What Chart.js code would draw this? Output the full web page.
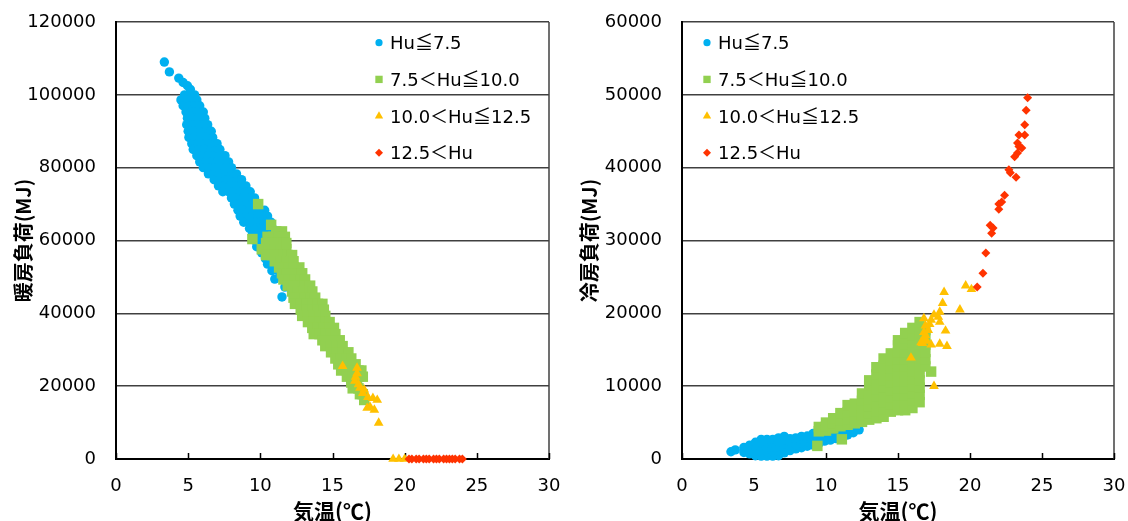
<!DOCTYPE html>
<html>
<head>
<meta charset="utf-8">
<script src="https://cdn.jsdelivr.net/npm/chart.js@4.4.1/dist/chart.umd.min.js"></script>
<style>
html,body{margin:0;padding:0;background:#fff;}
#wrap{position:relative;width:1128px;height:521px;overflow:hidden;}
.c{position:absolute;top:0;width:564px;height:521px;}
</style>
</head>
<body>
<div id="wrap">
  <div class="c" style="left:0"><canvas id="heat" width="564" height="521"></canvas></div>
  <div class="c" style="left:564px"><canvas id="cool" width="564" height="521"></canvas></div>
</div>
<script>
// ---------- labels & ticks ----------
const seriesLabels = ['Hu≦7.5', '7.5＜Hu≦10.0', '10.0＜Hu≦12.5', '12.5＜Hu'];
const xTitle = '気温(℃)';
const heatTitle = '暖房負荷(MJ)';
const coolTitle = '冷房負荷(MJ)';
const xTicks = [0, 5, 10, 15, 20, 25, 30];
const heatTicks = [0, 20000, 40000, 60000, 80000, 100000, 120000];
const coolTicks = [0, 10000, 20000, 30000, 40000, 50000, 60000];

// ---------- heating load (left) : [temperature, load] ----------
const heatHu1 = [
[3.35,109000],[3.7,106300],[4.35,104600],[4.65,103400],[4.95,102500],[5.15,101500],
[4.75,100000],[5.15,100000],[5.45,100000],
[4.5,98600],[4.9,98600],[5.3,98600],[5.6,98600],
[4.65,97000],[5.05,97000],[5.45,97000],[5.8,97000],
[4.85,95300],[5.25,95300],[5.65,95300],[6.05,95300],
[4.95,93600],[5.35,93600],[5.75,93600],[6.15,93600],
[4.9,91800],[5.3,91800],[5.7,91800],[6.1,91800],[6.35,91800],
[5.0,90000],[5.4,90000],[5.8,90000],[6.2,90000],[6.6,90000],
[5.05,88300],[5.45,88300],[5.85,88300],[6.25,88300],[6.7,88300],
[5.25,86600],[5.65,86600],[6.05,86600],[6.45,86600],[6.85,86600],[7.0,86600],
[5.35,85000],[5.75,85000],[6.15,85000],[6.55,85000],[6.95,85000],[7.2,85000],
[5.6,83300],[6.0,83300],[6.4,83300],[6.8,83300],[7.2,83300],[7.55,83300],
[5.8,81600],[6.2,81600],[6.6,81600],[7.0,81600],[7.4,81600],[7.8,81600],
[6.05,80000],[6.45,80000],[6.85,80000],[7.25,80000],[7.65,80000],[8.0,80000],
[6.4,78300],[6.8,78300],[7.2,78300],[7.6,78300],[8.0,78300],[8.35,78300],
[6.8,76700],[7.2,76700],[7.6,76700],[8.0,76700],[8.4,76700],[8.7,76700],
[7.1,75000],[7.5,75000],[7.9,75000],[8.3,75000],[8.7,75000],[9.0,75000],
[7.4,73400],[7.8,73400],[8.2,73400],[8.6,73400],[9.0,73400],[9.3,73400],
[8.0,71700],[8.4,71700],[8.8,71700],[9.2,71700],[9.6,71700],
[8.2,70000],[8.6,70000],[9.0,70000],[9.4,70000],[9.8,70000],
[8.45,68300],[8.85,68300],[9.25,68300],[9.65,68300],[10.05,68300],[10.3,68300],
[8.6,66700],[9.0,66700],[9.4,66700],[9.8,66700],[10.2,66700],[10.5,66700],
[8.85,65000],[9.25,65000],[9.65,65000],[10.05,65000],[10.45,65000],[10.75,65000],
[9.25,63300],[9.65,63300],[10.05,63300],[10.45,63300],[10.85,63300],
[9.45,61600],[9.85,61600],[10.25,61600],[10.65,61600],[11.05,61600],
[9.6,60000],[10.0,60000],[10.4,60000],[10.8,60000],[11.2,60000],[11.5,60000],
[9.75,58300],[10.15,58300],[10.55,58300],[10.95,58300],[11.35,58300],[11.8,58300],
[10.1,56600],[10.5,56600],[10.9,56600],[11.3,56600],[11.7,56600],
[10.35,55000],[10.75,55000],[11.15,55000],[11.55,55000],
[10.5,53500],[10.9,53500],[11.3,53500],
[10.8,51700],[11.2,51700],
[11.0,49400],[11.7,47200],[11.5,44500]
];
const heatHu2 = [
[9.85,70000],[10.75,64300],[9.45,60400],
[11.1,62500],[11.5,62500],
[10.5,61000],[10.9,61000],[11.3,61000],[11.7,61000],
[10.4,59300],[10.8,59300],[11.2,59300],[11.6,59300],[11.8,59300],
[10.1,57600],[10.6,57600],[11.0,57600],[11.4,57600],[11.8,57600],
[10.4,56000],[10.8,56000],[11.2,56000],[11.6,56000],[11.9,56000],[12.2,56000],
[11.0,54300],[11.4,54300],[11.8,54300],[12.1,54300],[12.3,54300],
[11.3,52600],[11.7,52600],[12.0,52600],[12.3,52600],[12.7,52600],
[11.5,51000],[11.8,51000],[12.1,51000],[12.5,51000],[12.9,51000],
[11.6,49300],[12.0,49300],[12.4,49300],[12.8,49300],[13.1,49300],
[11.9,47600],[12.3,47600],[12.7,47600],[13.1,47600],[13.45,47600],
[12.2,46000],[12.6,46000],[13.0,46000],[13.4,46000],[13.6,46000],
[12.3,44300],[12.7,44300],[13.1,44300],[13.5,44300],[13.8,44300],
[12.4,42600],[12.8,42600],[13.2,42600],[13.6,42600],[14.0,42600],[14.3,42600],
[12.8,41000],[13.2,41000],[13.6,41000],[14.0,41000],[14.4,41000],
[12.9,39300],[13.3,39300],[13.7,39300],[14.1,39300],[14.5,39300],
[13.3,37600],[13.7,37600],[14.1,37600],[14.5,37600],[14.8,37600],
[13.6,36000],[14.0,36000],[14.4,36000],[14.8,36000],[15.1,36000],
[13.7,34300],[14.1,34300],[14.5,34300],[14.9,34300],[15.2,34300],
[14.3,32600],[14.7,32600],[15.1,32600],[15.5,32600],
[14.5,31000],[14.9,31000],[15.3,31000],[15.7,31000],
[14.9,29300],[15.3,29300],[15.7,29300],[16.1,29300],
[15.2,27600],[15.6,27600],[16.0,27600],[16.3,27600],
[15.4,26000],[15.8,26000],[16.2,26000],[16.6,26000],
[15.6,24300],[16.0,24300],[16.4,24300],[16.8,24300],[17.0,24300],
[16.0,22600],[16.4,22600],[16.8,22600],[17.1,22600],
[16.3,21000],[16.7,21000],
[16.4,19400],[16.8,19400],
[16.9,17800],[17.1,17800],
[17.2,16200]
];
const heatHu3 = [
[15.7,25500],[16.7,25000],[16.7,23500],[16.6,22500],[16.55,21400],[16.8,20500],
[16.9,19500],[17.2,19000],[17.1,18100],[17.45,17000],[17.8,16700],[18.1,16200],
[17.6,14300],[17.4,14000],[17.9,13500],[18.2,9900],
[19.2,0],[19.6,0],[20.0,0]
];
const heatHu4 = [
[20.3,0],[20.5,0],[20.8,0],[21.0,0],[21.3,0],[21.5,0],[21.7,0],[22.0,0],[22.2,0],
[22.4,0],[22.7,0],[22.9,0],[23.1,0],[23.3,0],[23.5,0],[23.8,0],[24.0,0]
];

// ---------- cooling load (right) : [temperature, load] ----------
const coolHu1 = [
[3.4,1000],[3.7,1250],
[4.3,900],[4.3,1600],
[4.7,700],[4.7,1350],[4.7,1900],
[5.1,450],[5.1,1050],[5.1,1650],[5.1,2300],
[5.5,400],[5.5,1000],[5.5,1600],[5.5,2250],[5.5,2700],
[5.9,400],[5.9,1000],[5.9,1600],[5.9,2200],[5.9,2700],
[6.3,400],[6.3,1000],[6.3,1600],[6.3,2200],[6.3,2700],
[6.7,450],[6.7,1050],[6.7,1650],[6.7,2250],[6.7,2900],
[7.1,850],[7.1,1450],[7.1,2050],[7.1,2600],[7.1,3100],
[7.5,1150],[7.5,1750],[7.5,2350],[7.5,2800],
[7.9,1400],[7.9,2000],[7.9,2600],[7.9,2900],
[8.3,1550],[8.3,2150],[8.3,2750],[8.3,3100],
[8.7,1750],[8.7,2350],[8.7,2950],[8.7,3150],
[9.1,1900],[9.1,2500],[9.1,3100],[9.1,3500],
[9.5,2100],[9.5,2700],[9.5,3300],[9.5,3800],
[9.9,2450],[9.9,3050],[9.9,3650],[9.9,4200],
[10.3,2600],[10.3,3200],[10.3,3900],[10.3,4500],[10.3,5100],
[10.7,2800],[10.7,3400],[10.7,4100],[10.7,4900],[10.7,5600],
[11.1,3000],[11.1,3700],[11.1,4500],[11.1,5300],[11.1,6000],
[11.5,3300],[11.5,4000],[11.5,4800],
[11.9,3600],[11.9,4400],
[12.3,4000]
];
const coolHu2 = [
[9.4,1800],[11.1,2700],[17.3,12000],
[9.5,3800],[9.5,4400],
[10.0,3900],[10.0,4500],[10.0,5000],
[10.5,4200],[10.5,4900],[10.5,5600],
[11.0,4500],[11.0,5300],[11.0,6300],
[11.5,4700],[11.5,5500],[11.5,6400],[11.5,7400],
[12.0,4900],[12.0,5700],[12.0,6600],[12.0,7600],
[12.5,5100],[12.5,6000],[12.5,7000],[12.5,8000],[12.5,9000],
[13.0,5400],[13.0,6300],[13.0,7200],[13.0,8200],[13.0,9200],[13.0,10100],[13.0,10800],
[13.5,5600],[13.5,6600],[13.5,7600],[13.5,8600],[13.5,9600],[13.5,10600],[13.5,11600],[13.5,12600],
[14.0,5800],[14.0,6800],[14.0,7800],[14.0,8800],[14.0,9800],[14.0,10800],[14.0,11800],[14.0,12800],[14.0,13800],
[14.5,6500],[14.5,7500],[14.5,8500],[14.5,9500],[14.5,10500],[14.5,11500],[14.5,12500],[14.5,13500],[14.5,14500],
[15.0,6700],[15.0,7700],[15.0,8700],[15.0,9700],[15.0,10700],[15.0,11700],[15.0,12700],[15.0,13700],[15.0,14700],[15.0,15600],[15.0,16300],
[15.5,6700],[15.5,7700],[15.5,8700],[15.5,9700],[15.5,10700],[15.5,11700],[15.5,12700],[15.5,13700],[15.5,14700],[15.5,15700],[15.5,16600],[15.5,17300],
[16.0,7000],[16.0,8000],[16.0,9000],[16.0,10000],[16.0,11000],[16.0,12000],[16.0,13000],[16.0,14000],[16.0,15000],[16.0,16000],[16.0,17000],[16.0,18000],
[16.5,7800],[16.5,8800],[16.5,9800],[16.5,10800],[16.5,11800],[16.5,12800],[16.5,13800],[16.5,14800],[16.5,15800],[16.5,16800],[16.5,17800],[16.5,18800],
[16.9,12700],[16.9,13700],[16.9,14700],[16.9,15700],[16.9,16700],[16.9,17700]
];
const coolHu3 = [
[18.2,22900],[18.1,21400],[19.7,23800],[20.1,23300],[19.3,20500],[17.9,20200],
[17.5,19800],[16.8,19300],[17.8,19500],[17.3,19100],[17.9,18800],[16.9,18300],
[17.2,18500],[18.3,17600],[17.1,17700],[16.8,17400],[16.9,17000],[16.8,16500],
[16.6,16000],[17.0,16200],[16.7,15900],[17.3,15700],[17.9,15800],[18.4,15500],
[15.9,13900],[17.5,10000]
];
const coolHu4 = [
[24.0,49600],[23.9,47900],[23.8,45900],[23.8,44500],[23.4,44500],[23.3,43400],
[23.6,42700],[23.4,42900],[23.3,42000],[23.1,41500],[22.7,39700],[22.8,39300],
[23.2,38700],[22.4,36200],[22.2,35300],[22.0,35000],[22.0,34300],[21.4,32100],
[21.6,31700],[21.5,31000],[21.1,28300],[20.9,25500],[20.5,23600]
];

// ---------- styles ----------
const COLORS = ['#00B0F0', '#92D050', '#FFC000', '#FF3300'];
const STYLES = ['circle', 'rect', 'triangle', 'rectRot'];
const RADII = [4.7, 7.4, 5.6, 4.5];
const LEGEND_RADII = [3.6, 5.2, 4.8, 4.0];
const TICK_FONT = {family: '"DejaVu Sans"', size: 18};
const TITLE_FONT = {family: '"Noto Sans CJK JP"', size: 20, weight: 'bold'};
const XTITLE_FONT = {family: '"Noto Sans CJK JP"', size: 21, weight: 'bold'};

function drawShape(ctx, style, r, x, y) {
  ctx.beginPath();
  if (style === 'circle') {
    ctx.arc(x, y, r, 0, Math.PI * 2);
  } else if (style === 'rect') {
    const s = Math.SQRT1_2 * r;
    ctx.rect(x - s, y - s, 2 * s, 2 * s);
  } else if (style === 'triangle') {
    let a = 0;
    ctx.moveTo(x + Math.sin(a) * r, y - Math.cos(a) * r);
    a += 2 * Math.PI / 3; ctx.lineTo(x + Math.sin(a) * r, y - Math.cos(a) * r);
    a += 2 * Math.PI / 3; ctx.lineTo(x + Math.sin(a) * r, y - Math.cos(a) * r);
    ctx.closePath();
  } else {
    ctx.moveTo(x - r, y); ctx.lineTo(x, y - r); ctx.lineTo(x + r, y); ctx.lineTo(x, y + r);
    ctx.closePath();
  }
  ctx.fill();
}

function drawMixed(ctx, text, x, y, size) {
  let cx = x;
  for (const ch of text) {
    const cjk = ch.codePointAt(0) > 0x2000;
    ctx.font = cjk ? size + 'px "Noto Sans CJK JP"' : size + 'px "DejaVu Sans"';
    ctx.fillText(ch, cx, y);
    cx += ctx.measureText(ch).width;
  }
}

const insideLegend = {
  id: 'insideLegend',
  afterDatasetsDraw(chart, args, opts) {
    const ctx = chart.ctx, ca = chart.chartArea;
    ctx.save();
    ctx.textBaseline = 'alphabetic';
    ctx.textAlign = 'left';
    chart.data.datasets.forEach((ds, i) => {
      const y = ca.top + opts.top + i * opts.gap;
      const mx = ca.left + opts.left;
      ctx.fillStyle = ds.backgroundColor;
      drawShape(ctx, ds.pointStyle, LEGEND_RADII[i], mx, y);
      ctx.fillStyle = '#000';
      drawMixed(ctx, ds.label, mx + opts.textDx, y + 6.5, 18);
    });
    ctx.restore();
  }
};

// right border of the plot + inward tick marks on the x axis
const frame = {
  id: 'frame',
  beforeDatasetsDraw(chart) {
    const ctx = chart.ctx, ca = chart.chartArea, xs = chart.scales.x;
    ctx.save();
    ctx.strokeStyle = '#404040';
    ctx.lineWidth = 1.5;
    ctx.beginPath();
    ctx.moveTo(ca.right, ca.top);
    ctx.lineTo(ca.right, ca.bottom);
    ctx.stroke();
    ctx.strokeStyle = '#000';
    ctx.lineWidth = 1.5;
    ctx.beginPath();
    xs.ticks.forEach(t => {
      const px = Math.round(xs.getPixelForValue(t.value)) + 0.5;
      ctx.moveTo(px, ca.bottom);
      ctx.lineTo(px, ca.bottom - 6);
    });
    ctx.stroke();
    ctx.restore();
  }
};

function makeChart(id, series, yTicks, yTitle, cfg) {
  const datasets = series.map((d, i) => ({
    label: seriesLabels[i],
    data: d.map(p => ({x: p[0], y: p[1]})),
    pointStyle: STYLES[i],
    pointRadius: RADII[i],
    pointHoverRadius: RADII[i],
    backgroundColor: COLORS[i],
    borderColor: COLORS[i],
    borderWidth: 0,
    order: 3 - i,
    clip: false
  }));
  return new Chart(document.getElementById(id), {
    type: 'scatter',
    data: {datasets},
    options: {
      responsive: false,
      devicePixelRatio: 1,
      animation: false,
      events: [],
      layout: {padding: {top: 22, right: cfg.padRight, left: 0, bottom: 0}},
      plugins: {
        legend: {display: false},
        tooltip: {enabled: false},
        insideLegend: {left: cfg.legendLeft, top: 20.7, gap: 36.7, textDx: 11}
      },
      scales: {
        x: {
          type: 'linear', min: xTicks[0], max: xTicks[xTicks.length - 1],
          afterBuildTicks: s => { s.ticks = xTicks.map(v => ({value: v})); },
          ticks: {font: TICK_FONT, color: '#000', padding: 0, maxRotation: 0, autoSkip: false,
                  callback: v => String(v)},
          grid: {drawOnChartArea: false, drawTicks: true, tickLength: 17, tickColor: 'rgba(0,0,0,0)'},
          border: {display: true, color: '#000', width: 2},
          title: {display: true, text: xTitle, font: XTITLE_FONT, color: '#000', padding: {top: 0, bottom: -3}},
          afterFit: s => { s.height = 62; }
        },
        y: {
          type: 'linear', min: yTicks[0], max: yTicks[yTicks.length - 1],
          afterBuildTicks: s => { s.ticks = yTicks.map(v => ({value: v})); },
          ticks: {font: TICK_FONT, color: '#000', padding: 0, autoSkip: false, callback: v => String(v)},
          grid: {drawTicks: true, tickLength: 20, tickColor: 'rgba(0,0,0,0)', color: '#404040', lineWidth: 1.5},
          border: {display: true, color: '#000', width: 2},
          title: {display: true, text: yTitle, font: TITLE_FONT, color: '#000', padding: {top: cfg.titlePad, bottom: 0}},
          afterFit: s => { s.width = cfg.yWidth; }
        }
      }
    },
    plugins: [frame, insideLegend]
  });
}

makeChart('heat', [heatHu1, heatHu2, heatHu3, heatHu4], heatTicks, heatTitle,
  {padRight: 15, yWidth: 116, titlePad: 11, legendLeft: 263});
makeChart('cool', [coolHu1, coolHu2, coolHu3, coolHu4], coolTicks, coolTitle,
  {padRight: 14, yWidth: 118, titlePad: 13, legendLeft: 25});
</script>
</body>
</html>
